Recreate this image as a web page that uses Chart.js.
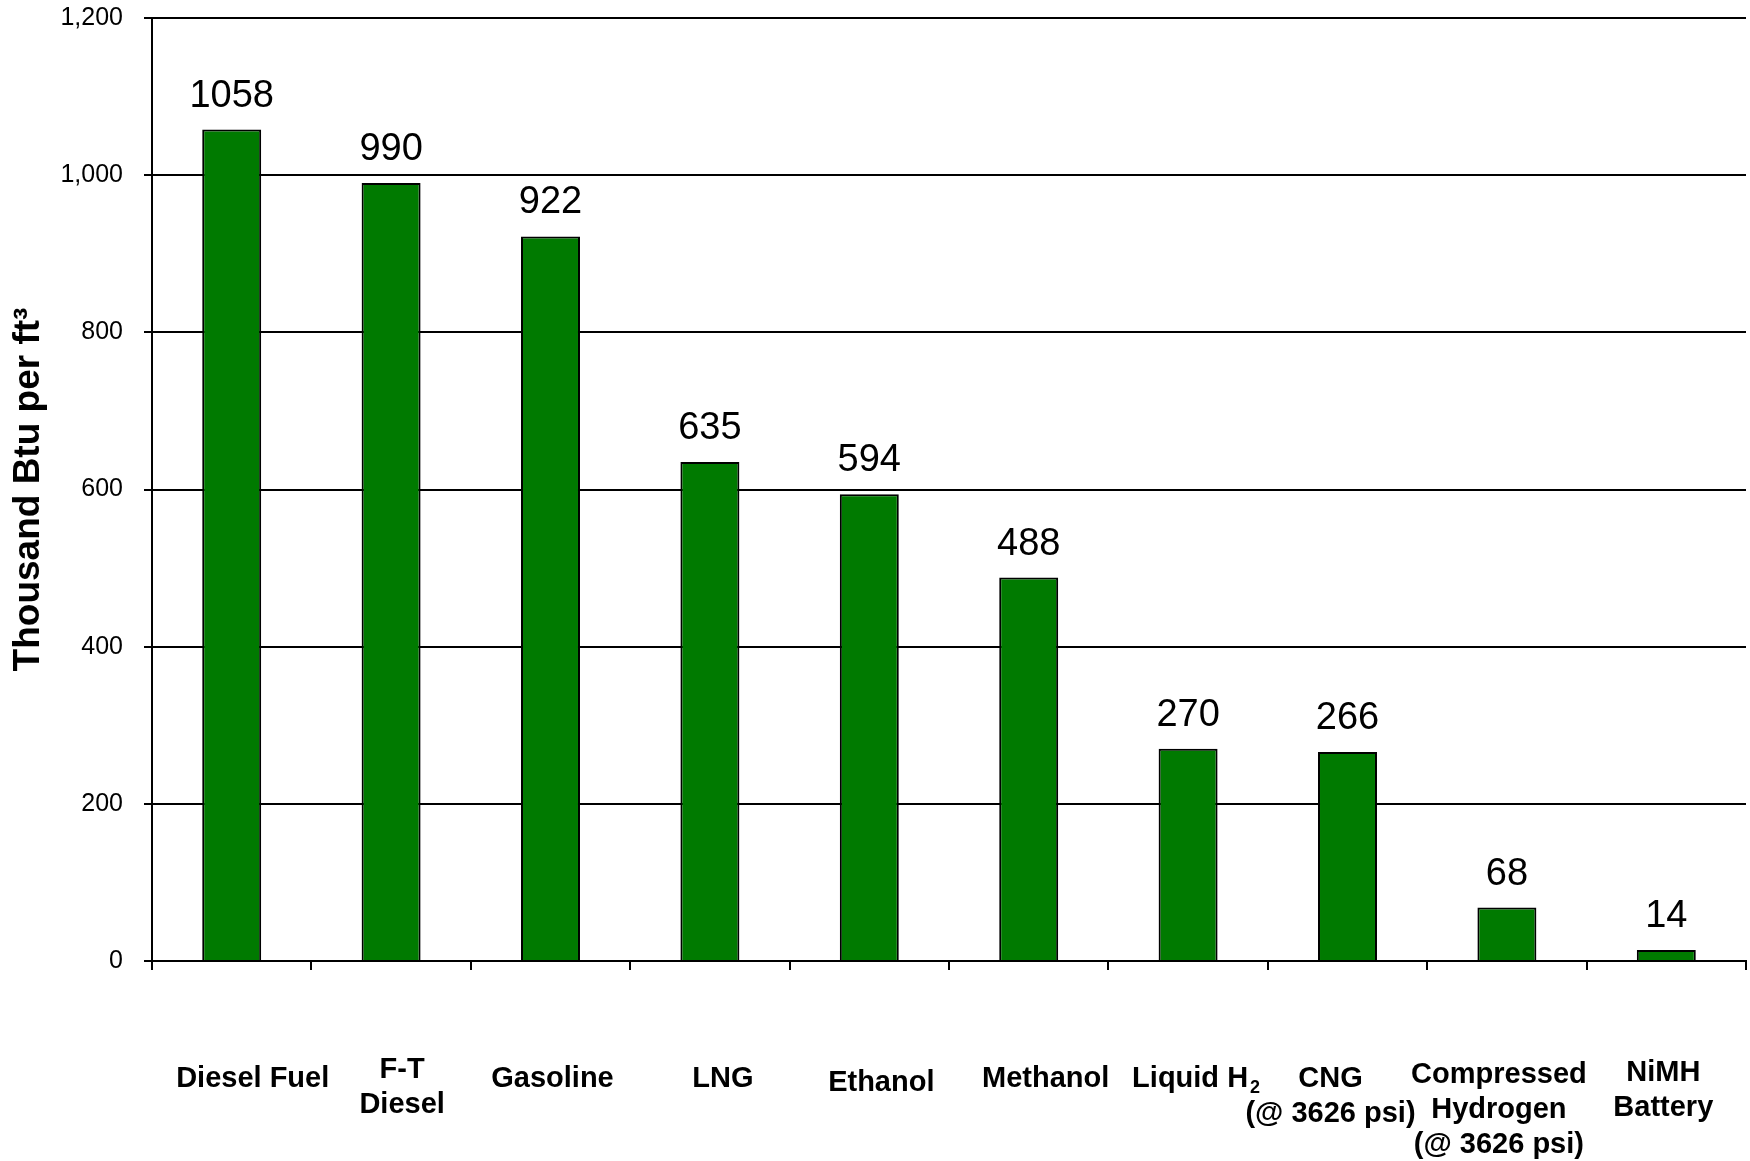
<!DOCTYPE html>
<html>
<head>
<meta charset="utf-8">
<title>Volumetric energy density of fuels</title>
<script src="https://cdn.jsdelivr.net/npm/chart.js@4/dist/chart.umd.min.js"></script>
<style>
  html, body { margin: 0; padding: 0; background: #fff; }
  #wrap { width: 1750px; height: 1161px; position: relative; }
</style>
</head>
<body>
<div id="wrap"><canvas id="c"></canvas></div>
<script>
// Fuel categories (one entry per caption line)
const categories = [
  ["Diesel Fuel"],
  ["F-T", "Diesel"],
  ["Gasoline"],
  ["LNG"],
  ["Ethanol"],
  ["Methanol"],
  ["Liquid H\u2082"],
  ["CNG", "(@ 3626 psi)"],
  ["Compressed", "Hydrogen", "(@ 3626 psi)"],
  ["NiMH", "Battery"]
];

// Energy content, thousand Btu per cubic foot
const values = [1058, 990, 922, 635, 594, 488, 270, 266, 68, 14];

// Value axis ticks
const yTickValues = [0, 200, 400, 600, 800, 1000, 1200];
const yTitle = "Thousand Btu per ft\u00B3";

// Hand-placed nudges for the category captions (px)
const labelNudgeX = [21, 11, 2, 13, 12, 17, 8, -17, -8, -3];
const labelNudgeY = [0, -9, 0, 0, 4, 0, 0, 0, -4, -6];

const FONT = '"Liberation Sans", Arial, Helvetica, sans-serif';
const BAR_GREEN = "#007a00";

// Number above every bar
const valueLabels = {
  id: "valueLabels",
  afterDatasetsDraw(chart) {
    const ctx = chart.ctx;
    const meta = chart.getDatasetMeta(0);
    ctx.save();
    ctx.font = "38px " + FONT;
    ctx.fillStyle = "#000";
    ctx.textAlign = "center";
    ctx.textBaseline = "alphabetic";
    meta.data.forEach((bar, i) => {
      ctx.fillText(String(values[i]), bar.x, bar.y - 23);
    });
    ctx.restore();
  }
};

// Draws one caption line, rendering subscript digits (e.g. H₂) small and lowered
function drawCaptionLine(ctx, text, cx, y, size) {
  const subMap = { "\u2080": "0", "\u2081": "1", "\u2082": "2", "\u2083": "3" };
  const runs = [];
  for (const ch of text) {
    const sub = ch in subMap;
    const c = sub ? subMap[ch] : ch;
    const last = runs[runs.length - 1];
    if (last && last.sub === sub) last.text += c;
    else runs.push({ text: c, sub });
  }
  const mainFont = "bold " + size + "px " + FONT;
  const subFont = "bold " + Math.round(size * 0.62) + "px " + FONT;
  let total = 0;
  runs.forEach(r => {
    ctx.font = r.sub ? subFont : mainFont;
    r.w = ctx.measureText(r.text).width;
    total += r.w + (r.sub ? 2 : 0);
  });
  let x = cx - total / 2;
  runs.forEach(r => {
    ctx.font = r.sub ? subFont : mainFont;
    ctx.textAlign = "left";
    ctx.fillText(r.text, x + (r.sub ? 2 : 0), y + (r.sub ? size * 0.22 : 0));
    x += r.w + (r.sub ? 2 : 0);
  });
}

// Category captions under the axis
const categoryCaptions = {
  id: "categoryCaptions",
  afterDraw(chart) {
    const xs = chart.scales.x;
    const ctx = chart.ctx;
    ctx.save();
    ctx.fillStyle = "#000";
    ctx.textBaseline = "alphabetic";
    const size = 29, lineGap = 35;
    categories.forEach((lines, i) => {
      const cx = xs.getPixelForValue(i) + labelNudgeX[i];
      let y = xs.top + 126 + labelNudgeY[i];
      lines.forEach(line => {
        drawCaptionLine(ctx, line, cx, y, size);
        y += lineGap;
      });
    });
    ctx.restore();
  }
};

new Chart(document.getElementById("c"), {
  type: "bar",
  data: {
    labels: categories.map(l => l.join(" ")),
    datasets: [{
      data: values,
      backgroundColor: BAR_GREEN,
      borderColor: "#000",
      borderWidth: 2,
      barPercentage: 0.37,
      categoryPercentage: 1
    }]
  },
  options: {
    responsive: true,
    maintainAspectRatio: false,
    animation: false,
    layout: { padding: { top: 18, right: 4, left: 0, bottom: 0 } },
    plugins: {
      legend: { display: false },
      tooltip: { enabled: false }
    },
    scales: {
      x: {
        offset: true,
        grid: {
          display: true,
          drawOnChartArea: false,
          drawTicks: true,
          tickLength: 9,
          color: "#000",
          lineWidth: 2,
          offset: true
        },
        border: { display: true, color: "#000", width: 2 },
        ticks: { display: false },
        afterFit(s) { s.height = 200; }
      },
      y: {
        min: 0,
        max: 1200,
        afterBuildTicks(s) { s.ticks = yTickValues.map(v => ({ value: v })); },
        ticks: {
          font: { size: 25, family: FONT },
          color: "#000",
          padding: 21,
          callback: v => Number(v).toLocaleString("en-US")
        },
        grid: { color: "#000", lineWidth: 2, tickLength: 8 },
        border: { display: true, color: "#000", width: 2 },
        title: {
          display: true,
          text: yTitle,
          font: { size: 37, weight: "bold", family: FONT },
          color: "#000",
          padding: { top: 7, bottom: 0 }
        },
        afterFit(s) {
          s.width = 152;
          // the plot area may run right up to the top label
          s.paddingTop = 0;
          s.paddingBottom = 0;
        }
      }
    }
  },
  plugins: [valueLabels, categoryCaptions]
});
</script>
</body>
</html>
